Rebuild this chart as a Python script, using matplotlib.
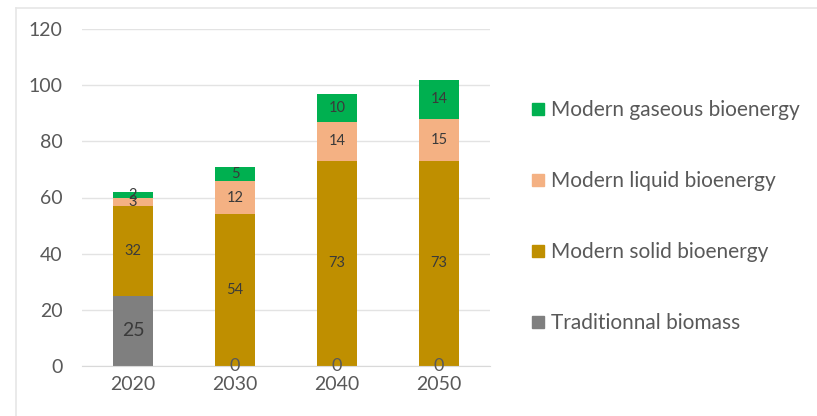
import matplotlib
matplotlib.use("Agg")
import matplotlib.pyplot as plt
from matplotlib.patches import Patch
import numpy as np

plt.rcParams['font.family'] = ['Lato', 'DejaVu Sans']

years = ["2020", "2030", "2040", "2050"]
traditional = [25, 0, 0, 0]
solid = [32, 54, 73, 73]
liquid = [3, 12, 14, 15]
gaseous = [2, 5, 10, 14]
y_ticks = [0, 20, 40, 60, 80, 100, 120]

series = [
    ("Traditionnal biomass", traditional, "#7F7F7F"),
    ("Modern solid bioenergy", solid, "#BF8F00"),
    ("Modern liquid bioenergy", liquid, "#F4B183"),
    ("Modern gaseous bioenergy", gaseous, "#00B050"),
]

fig = plt.figure(figsize=(8.17, 4.16), dpi=100)
ax = fig.add_axes([82 / 817, 50 / 416, 408 / 817, 337 / 416])

x = np.arange(len(years))
bottom = np.zeros(len(years))
width = 0.39
text_col = "#3A3A3A"
for name, vals, col in series:
    vals = np.array(vals, dtype=float)
    ax.bar(x, vals, width, bottom=bottom, color=col, label=name, zorder=2)
    for xi, b, v in zip(x, bottom, vals):
        if name == "Traditionnal biomass":
            if v == 0:
                ax.text(xi, b, "0", ha="center", va="center",
                        fontsize=13, color="#595959", zorder=3)
            else:
                ax.text(xi, b + v / 2, f"{v:g}", ha="center", va="center",
                        fontsize=14, color=text_col, zorder=3)
        else:
            ax.text(xi, b + v / 2, f"{v:g}", ha="center", va="center",
                    fontsize=10.5, color=text_col, zorder=3)
    bottom += vals

ax.set_xlim(-0.5, 3.5)
ax.set_ylim(0, 120)
ax.set_yticks(y_ticks)
ax.set_xticks(x)
ax.set_xticklabels(years)
ax.tick_params(axis="both", length=0, labelsize=14, colors="#595959")
ax.tick_params(axis="y", pad=14)
ax.tick_params(axis="x", pad=7)
ax.yaxis.grid(True, color="#E3E3E3", lw=1, zorder=0)
for s in ["top", "right", "left"]:
    ax.spines[s].set_visible(False)
ax.spines["bottom"].set_color("#D9D9D9")

handles = [Patch(color=c) for _, _, c in series][::-1]
labels = [n for n, _, _ in series][::-1]
leg = fig.legend(handles, labels, loc="upper left",
                 bbox_to_anchor=(524 / 817, 1 - 92 / 416),
                 frameon=False, fontsize=15, labelcolor="#595959",
                 handlelength=0.55, handleheight=0.55, handletextpad=0.35,
                 labelspacing=2.45, borderaxespad=0)

# light frame around the chart area
fig.add_artist(plt.Line2D([16 / 817, 1], [1 - 8 / 416, 1 - 8 / 416],
                          transform=fig.transFigure, color="#E6E6E6", lw=1.2))
fig.add_artist(plt.Line2D([16 / 817, 16 / 817], [0, 1 - 8 / 416],
                          transform=fig.transFigure, color="#E6E6E6", lw=1.2))

fig.savefig("out.png", dpi=100)
